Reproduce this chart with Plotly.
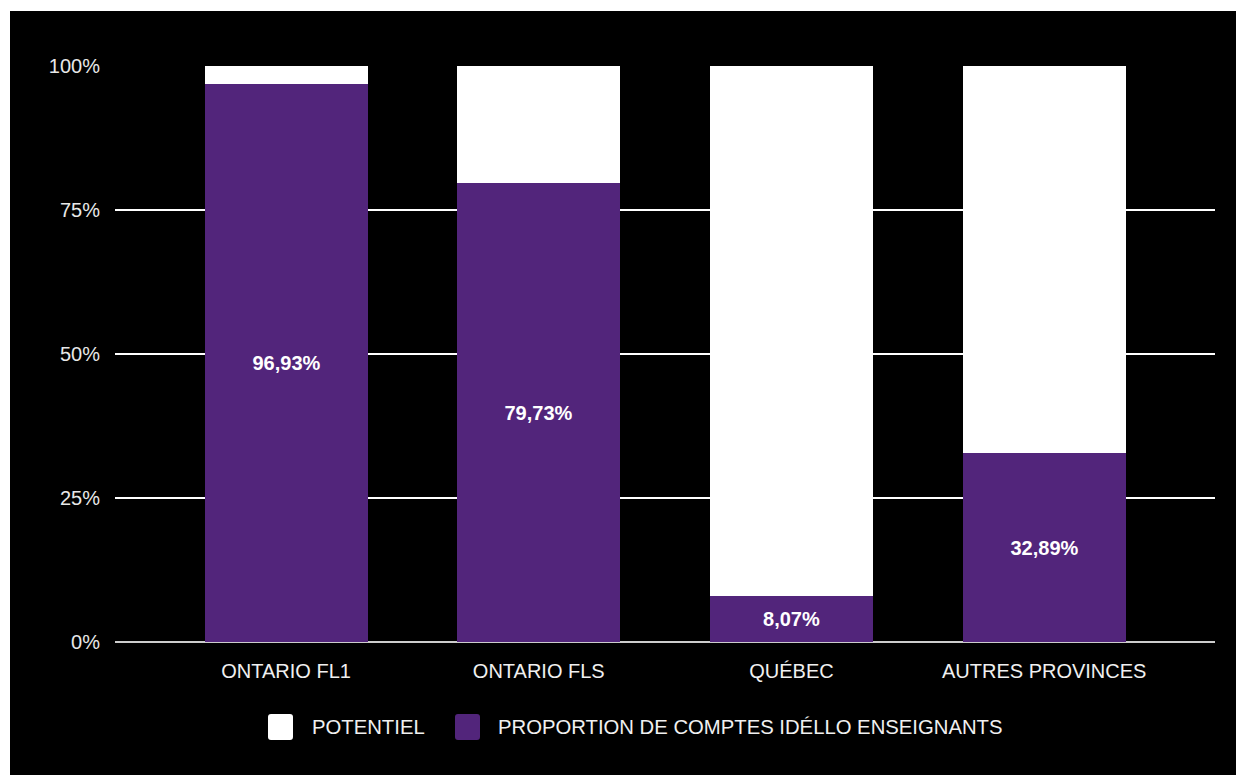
import plotly.graph_objects as go

categories = ["ONTARIO FL1", "ONTARIO FLS", "QUÉBEC", "AUTRES PROVINCES"]
proportion = [96.93, 79.73, 8.07, 32.89]
potentiel = [3.07, 20.27, 91.93, 67.11]
proportion_labels = ["96,93%", "79,73%", "8,07%", "32,89%"]
y_ticks = [0, 25, 50, 75, 100]
y_tick_labels = ["0%", "25%", "50%", "75%", "100%"]
legend_names = ["POTENTIEL", "PROPORTION DE COMPTES IDÉLLO ENSEIGNANTS"]

PURPLE = "#52257b"
FONT = "Liberation Sans, Arial, sans-serif"

W, H = 1236, 775
L, R, T, B = 115, 21, 66, 133
PW, PH = W - L - R, H - T - B


def px(x):
    return (x - L) / PW


def py(y):
    return (H - B - y) / PH


def rounded_rect_path(x0, y0, x1, y1, r):
    # pixel coords -> paper coords path with rounded corners
    pts = []
    def P(x, y):
        return f"{px(x):.5f},{py(y):.5f}"
    return (f"M{P(x0 + r, y0)} L{P(x1 - r, y0)} Q{P(x1, y0)} {P(x1, y0 + r)} "
            f"L{P(x1, y1 - r)} Q{P(x1, y1)} {P(x1 - r, y1)} "
            f"L{P(x0 + r, y1)} Q{P(x0, y1)} {P(x0, y1 - r)} "
            f"L{P(x0, y0 + r)} Q{P(x0, y0)} {P(x0 + r, y0)} Z")


fig = go.Figure()
fig.add_trace(go.Bar(
    x=categories, y=proportion, name=legend_names[1],
    marker=dict(color=PURPLE, line=dict(width=0)),
    text=proportion_labels, textposition="inside", insidetextanchor="middle",
    textfont=dict(family=FONT, size=20, color="white", weight="bold"),
    width=0.645, showlegend=False,
))
fig.add_trace(go.Bar(
    x=categories, y=potentiel, name=legend_names[0],
    marker=dict(color="white", line=dict(width=0)),
    width=0.645, showlegend=False, hoverinfo="skip",
))

shapes = [
    dict(type="rect", xref="paper", yref="paper", layer="below",
         x0=px(10), x1=px(W + 5), y0=py(H + 5), y1=py(11),
         fillcolor="black", line=dict(width=0)),
]
annotations = []
# manual legend
legend_items = [
    (legend_names[0], "white", 268, 311),
    (legend_names[1], PURPLE, 455, 497),
]
for name, color, sx, tx in legend_items:
    shapes.append(dict(type="path", xref="paper", yref="paper",
                       path=rounded_rect_path(sx, 714, sx + 25, 740, 3),
                       fillcolor=color, line=dict(width=0)))
    annotations.append(dict(xref="paper", yref="paper", x=px(tx - 1), y=py(727),
                            xanchor="left", yanchor="middle", showarrow=False,
                            text=name, font=dict(family=FONT, size=20.3, color="#f0f0f0")))

fig.update_layout(
    width=W, height=H,
    margin=dict(l=L, r=R, t=T, b=B),
    paper_bgcolor="white", plot_bgcolor="black",
    barmode="stack", bargap=0,
    font=dict(family=FONT, color="#f0f0f0"),
    shapes=shapes, annotations=annotations,
    showlegend=False,
)
fig.update_xaxes(
    range=[-0.677, 3.676], showgrid=False, zeroline=False, showline=False,
    tickfont=dict(family=FONT, size=20, color="#f0f0f0"),
    ticklabelstandoff=15, fixedrange=True,
)
fig.update_yaxes(
    range=[0, 100], tickvals=y_ticks, ticktext=y_tick_labels,
    showgrid=True, gridcolor="white", gridwidth=2,
    zeroline=True, zerolinecolor="#cccccc", zerolinewidth=2,
    tickfont=dict(family=FONT, size=20, color="#e8e8e8"),
    ticklabelstandoff=14, fixedrange=True,
)

fig.write_html("out.html")
